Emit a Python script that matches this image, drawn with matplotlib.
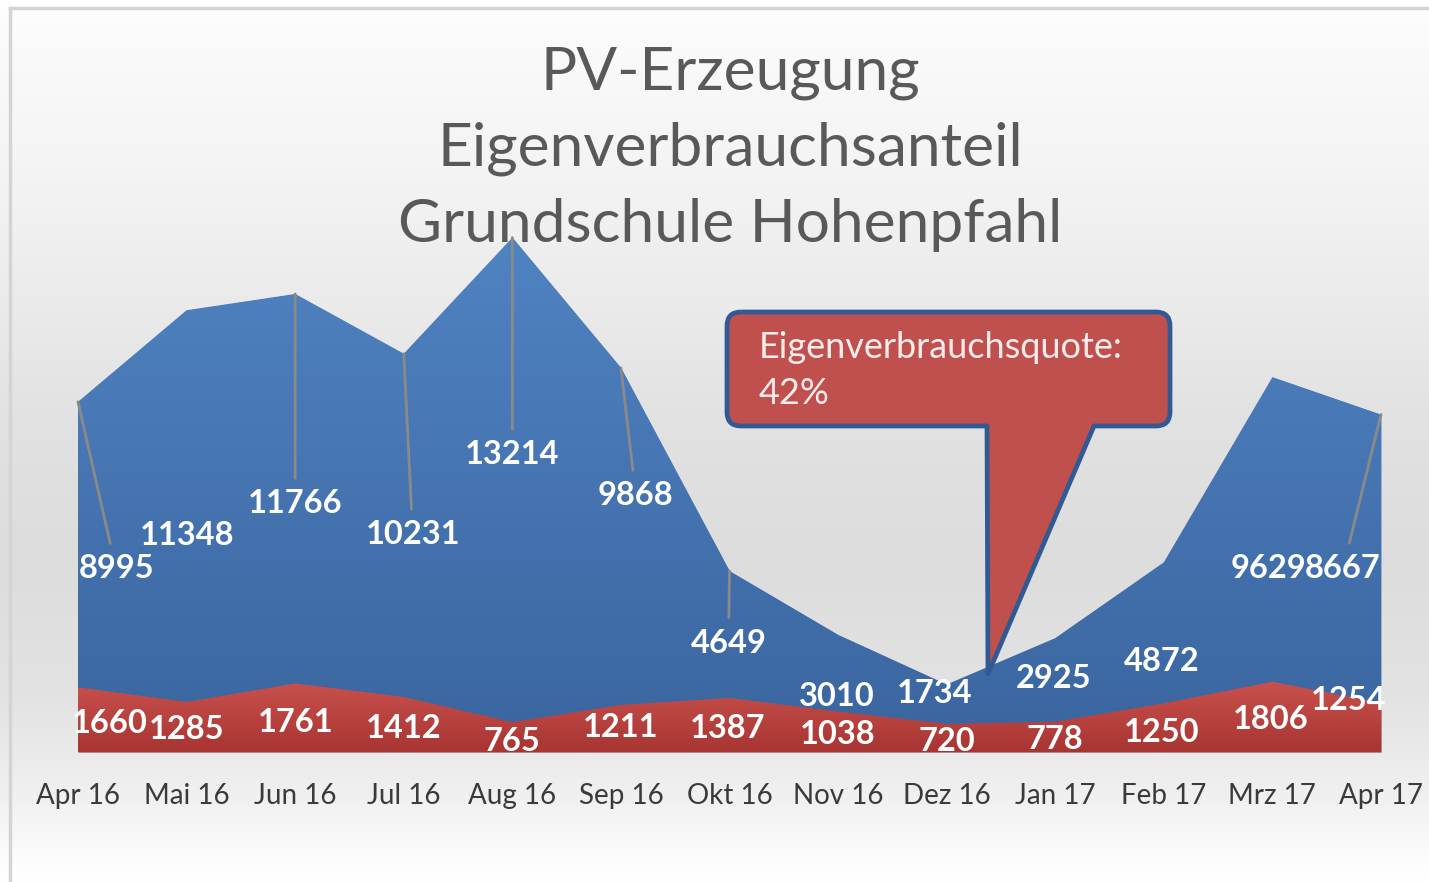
import numpy as np
import matplotlib.pyplot as plt
from matplotlib.path import Path
from matplotlib.patches import PathPatch
from matplotlib.lines import Line2D
from matplotlib.colors import LinearSegmentedColormap

plt.rcParams['font.family'] = ['Lato', 'DejaVu Sans']

months = ["Apr 16", "Mai 16", "Jun 16", "Jul 16", "Aug 16", "Sep 16", "Okt 16",
          "Nov 16", "Dez 16", "Jan 17", "Feb 17", "Mrz 17", "Apr 17"]
erzeugung = [8995, 11348, 11766, 10231, 13214, 9868, 4649, 3010, 1734, 2925, 4872, 9629, 8667]
eigenverbrauch = [1660, 1285, 1761, 1412, 765, 1211, 1387, 1038, 720, 778, 1250, 1806, 1254]
title_lines = ["PV-Erzeugung", "Eigenverbrauchsanteil", "Grundschule Hohenpfahl"]
callout_lines = ["Eigenverbrauchsquote:", "42%"]

# label offsets in pixels from the data point (dx, dy; dy up)
blue_off = [(38, -167), (0, -225), (0, -210), (9, -181), (0, -217), (15, -128), (-1, -72),
            (-1, -62), (-12, -9), (-2, -40), (-2, -99), (-4, -191), (-38, -154)]
red_off = [(32, -36), (0, -28), (0, -39), (0, -31), (0, -19), (0, -23), (-2, -30),
           (0, -23), (0, -18), (0, -18), (-2, -29), (-2, -38), (-32, 3)]
leaders = [0, 2, 3, 4, 5, 6, 12]

W, H = 1429, 882
fig = plt.figure(figsize=(W / 100, H / 100), dpi=100)


def fx(px):
    return px / W


def fy(py):
    return 1 - py / H


# background gradient
bg = fig.add_axes([0, 0, 1, 1], zorder=-10)
rows = np.arange(H)
shade = np.interp(rows, [0, 30, 200, 420, 560, 700, 800, 860, 882],
                  [1.0, 0.985, 0.95, 0.885, 0.865, 0.89, 0.945, 0.99, 1.0])
bg.imshow(np.repeat(shade[:, None], 3, axis=1)[:, None, :].repeat(2, axis=1),
          aspect='auto', extent=[0, 1, 0, 1], origin='upper')
bg.set_xlim(0, 1)
bg.set_ylim(0, 1)
bg.axis('off')
fig.add_artist(Line2D([fx(10), 1], [fy(8), fy(8)], color='#d4d4d4', lw=2.5))
fig.add_artist(Line2D([fx(10), fx(10)], [fy(8), 0], color='#d4d4d4', lw=2.5))

ax = fig.add_axes([fx(78), fy(752), fx(1381) - fx(78), fy(207) - fy(752)])
ax.patch.set_alpha(0)
x = np.arange(len(months))
ymax = 14000


def gradient_area(vals, top_col, bot_col, y_top, z):
    poly = ax.fill_between(x, 0, vals, color=top_col, lw=0, zorder=z)
    cmap = LinearSegmentedColormap.from_list("g", [bot_col, top_col])
    grad = np.linspace(0, 1, 256).reshape(-1, 1)
    im = ax.imshow(grad, cmap=cmap, aspect='auto', origin='lower',
                   extent=[x[0], x[-1], 0, y_top], zorder=z)
    im.set_clip_path(poly.get_paths()[0], ax.transData)


gradient_area(erzeugung, '#5083c2', '#3a659f', max(erzeugung), 2)
gradient_area(eigenverbrauch, '#c9514d', '#a83532', max(eigenverbrauch), 3)

ax.set_xlim(0, len(months) - 1)
ax.set_ylim(0, ymax)
for s in ax.spines.values():
    s.set_visible(False)
ax.set_yticks([])
ax.set_xticks(x)
ax.set_xticklabels(months, fontsize=20, color='#3a3a3a')
ax.tick_params(axis='x', length=0, pad=22)

for i, v in enumerate(erzeugung):
    arrow = None
    if i in leaders:
        arrow = dict(arrowstyle='-', color='#8a8a8a', lw=2, shrinkA=6, shrinkB=0)
    ax.annotate(str(v), (x[i], v), xytext=blue_off[i], textcoords='offset pixels',
                ha='center', va='center', color='white', fontsize=23.5,
                fontweight='bold', zorder=6, arrowprops=arrow, annotation_clip=False)

for i, v in enumerate(eigenverbrauch):
    ax.annotate(str(v), (x[i], v), xytext=red_off[i], textcoords='offset pixels',
                ha='center', va='center', color='white', fontsize=23.5,
                fontweight='bold', zorder=6, annotation_clip=False)

# title
for line, base in zip(title_lines, [89, 165, 242]):
    fig.text(fx(730), fy(base), line, ha='center', va='baseline',
             fontsize=43.5, color='#595959')

# callout
L, R, T, B, r = 727, 1170, 312, 426, 14
tip = (988, 674)
pts = [(L + r, T), (R - r, T), (R, T), (R, T + r), (R, B - r), (R, B), (R - r, B),
       (1094, B), tip, (987, B), (L + r, B), (L, B), (L, B - r), (L, T + r), (L, T),
       (L + r, T)]
codes = [Path.MOVETO, Path.LINETO, Path.CURVE3, Path.CURVE3, Path.LINETO, Path.CURVE3,
         Path.CURVE3, Path.LINETO, Path.LINETO, Path.LINETO, Path.LINETO, Path.CURVE3,
         Path.CURVE3, Path.LINETO, Path.CURVE3, Path.CURVE3]
path = Path([(fx(px), fy(py)) for px, py in pts], codes)
fig.add_artist(PathPatch(path, facecolor='#c0504d', edgecolor='#2f5a93', lw=3.4,
                         transform=fig.transFigure, zorder=7, joinstyle='round'))
fig.text(fx(759), fy(348), callout_lines[0], ha='left', va='center', fontsize=26,
         color='#fbecec', zorder=8)
fig.text(fx(759), fy(394), callout_lines[1], ha='left', va='center', fontsize=26,
         color='#fbecec', zorder=8)

fig.savefig("out.png", dpi=100)
